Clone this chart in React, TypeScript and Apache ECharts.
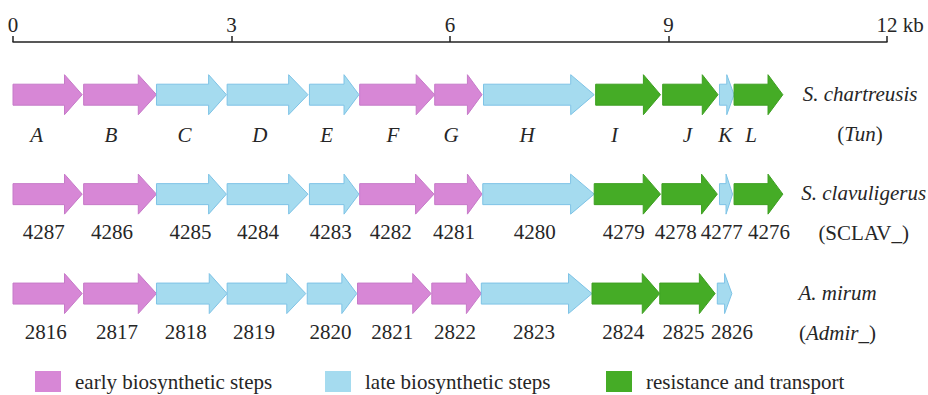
import React, { useEffect, useRef } from "react";
import * as echarts from "echarts";

// ---------- data ----------
const AXIS_TICKS = [0, 3, 6, 9, 12];
const SPECIES = ["S. chartreusis", "S. clavuligerus", "A. mirum"];
const PREFIXES = ["Tun", "SCLAV_", "Admir_"];
const CATEGORY_NAMES = ["early biosynthetic steps", "late biosynthetic steps", "resistance and transport"];

// Row 1: S. chartreusis (Tun)
const TUN_LABELS = ["A", "B", "C", "D", "E", "F", "G", "H", "I", "J", "K", "L"];
const TUN_START = [0.0, 0.97, 1.97, 2.94, 4.07, 4.76, 5.79, 6.46, 8.0, 8.92, 9.7, 9.9];
const TUN_END = [0.95, 1.97, 2.93, 4.05, 4.75, 5.79, 6.44, 7.98, 8.89, 9.68, 9.9, 10.57];
const TUN_TYPE = [0, 0, 1, 1, 1, 0, 0, 1, 2, 2, 1, 2];

// Row 2: S. clavuligerus (SCLAV_)
const SCLAV_LABELS = ["4287", "4286", "4285", "4284", "4283", "4282", "4281", "4280", "4279", "4278", "4277", "4276"];
const SCLAV_START = [0.0, 0.97, 1.97, 2.94, 4.07, 4.76, 5.79, 6.45, 7.98, 8.91, 9.7, 9.9];
const SCLAV_END = [0.95, 1.97, 2.93, 4.05, 4.75, 5.78, 6.44, 7.98, 8.89, 9.67, 9.88, 10.57];
const SCLAV_TYPE = [0, 0, 1, 1, 1, 0, 0, 1, 2, 2, 1, 2];

// Row 3: A. mirum (Admir_)
const ADMIR_LABELS = ["2816", "2817", "2818", "2819", "2820", "2821", "2822", "2823", "2824", "2825", "2826"];
const ADMIR_START = [0.0, 0.97, 1.97, 2.94, 4.04, 4.73, 5.75, 6.43, 7.95, 8.88, 9.67];
const ADMIR_END = [0.95, 1.97, 2.94, 4.02, 4.72, 5.74, 6.43, 7.95, 8.88, 9.64, 9.87];
const ADMIR_TYPE = [0, 0, 1, 1, 1, 0, 0, 1, 2, 2, 1];

// ---------- layout (label nudges in px, not data) ----------
const NUDGE = [
  [-2, 0, 2, 2, 0, 5, 0, 0, -5, 5, 2, 0],
  [5, 1, 8, 0, 4, 3, 3, 8, 5, -6, -1, 18],
  [7, 6, 3, -3, 6, 7, 6, 9, 6, 4, 11],
];
const SPECIES_X = [11.63, 11.68, 11.32];
const FONT = "Liberation Serif, Times New Roman, serif";
const TEXT = "#262626";
const FILLS = ["#D787D6", "#A5DBEF", "#45AC26"];
const STROKES = ["#C67AC8", "#7EC3E6", "#3E9F22"];

type Gene = { s: number; e: number; row: number; label: string; type: number; nudge: number; italic: boolean };

function buildGenes(): Gene[] {
  const rows = [
    [TUN_LABELS, TUN_START, TUN_END, TUN_TYPE],
    [SCLAV_LABELS, SCLAV_START, SCLAV_END, SCLAV_TYPE],
    [ADMIR_LABELS, ADMIR_START, ADMIR_END, ADMIR_TYPE],
  ] as any[];
  const out: Gene[] = [];
  rows.forEach((r, row) => {
    const [labels, st, en, ty] = r;
    labels.forEach((l: string, i: number) =>
      out.push({ s: st[i], e: en[i], row, label: l, type: ty[i], nudge: NUDGE[row][i] || 0, italic: row === 0 })
    );
  });
  return out;
}

function geneSeries(cat: number, genes: Gene[]) {
  const items = genes.filter((g) => g.type === cat);
  return {
    type: "custom",
    name: CATEGORY_NAMES[cat],
    coordinateSystem: "cartesian2d",
    itemStyle: { color: FILLS[cat] },
    encode: { x: [0, 1], y: 2 },
    data: items.map((g) => [g.s, g.e, g.row]),
    renderItem: (params: any, api: any) => {
      const g = items[params.dataIndex];
      const p0 = api.coord([g.s, g.row]);
      const p1 = api.coord([g.e, g.row]);
      const y = p0[1];
      const len = p1[0] - p0[0];
      const head = Math.min(8 + 0.14 * len, 0.5 * len);
      const hb = p1[0] - head;
      const bh = 10.5;
      const hh = 20;
      const points = [
        [p0[0], y - bh],
        [hb, y - bh],
        [hb, y - hh],
        [p1[0], y],
        [hb, y + hh],
        [hb, y + bh],
        [p0[0], y + bh],
      ];
      return {
        type: "group",
        children: [
          { type: "polygon", shape: { points }, style: { fill: FILLS[cat], stroke: STROKES[cat], lineWidth: 1 } },
          {
            type: "text",
            x: (p0[0] + hb) / 2 + g.nudge,
            y: y + (g.italic ? 40 : 38),
            style: {
              text: g.label,
              fontSize: 21,
              fontFamily: FONT,
              fontStyle: g.italic ? "italic" : "normal",
              fill: TEXT,
              align: "center",
              verticalAlign: "middle",
              textAlign: "center",
              textVerticalAlign: "middle",
            },
          },
        ],
      };
    },
  };
}

function speciesSeries() {
  return {
    type: "custom",
    name: "species",
    coordinateSystem: "cartesian2d",
    encode: { x: 0, y: 1 },
    data: SPECIES.map((_, i) => [SPECIES_X[i], i]),
    renderItem: (params: any, api: any) => {
      const i = params.dataIndex;
      const p = api.coord([SPECIES_X[i], i]);
      const italicCode = i !== 1;
      const code = italicCode ? `{p|(}{i|${PREFIXES[i]}}{p|)}` : `{p|(${PREFIXES[i]})}`;
      const base = { fontSize: 21, fontFamily: FONT, fill: TEXT };
      return {
        type: "group",
        children: [
          {
            type: "text",
            x: p[0],
            y: p[1] - 1,
            style: {
              text: SPECIES[i],
              ...base,
              fontStyle: "italic",
              align: "center",
              verticalAlign: "middle",
              textAlign: "center",
              textVerticalAlign: "middle",
            },
          },
          {
            type: "text",
            x: p[0],
            y: p[1] + 39,
            style: {
              text: code,
              ...base,
              rich: {
                p: { fontSize: 21, fontFamily: FONT, fill: TEXT, fontStyle: "normal" },
                i: { fontSize: 21, fontFamily: FONT, fill: TEXT, fontStyle: "italic" },
              },
              align: "center",
              verticalAlign: "middle",
              textAlign: "center",
              textVerticalAlign: "middle",
            },
          },
        ],
      };
    },
  };
}

const LEGEND_LEFT = [35, 325, 606];

export default function App() {
  const ref = useRef<HTMLDivElement>(null);
  useEffect(() => {
    if (!ref.current) return;
    const chart = echarts.init(ref.current, null, { renderer: "svg" });
    const genes = buildGenes();
    const maxTick = AXIS_TICKS[AXIS_TICKS.length - 1];
    chart.setOption({
      animation: false,
      backgroundColor: "#ffffff",
      grid: { left: 13, right: 41, top: 42, bottom: 2, outerBoundsMode: "none", containLabel: false },
      xAxis: {
        type: "value",
        position: "top",
        min: AXIS_TICKS[0],
        max: maxTick,
        interval: AXIS_TICKS[1] - AXIS_TICKS[0],
        axisLine: { show: true, onZero: false, lineStyle: { color: "#222", width: 1.5 } },
        axisTick: { show: true, length: 6, lineStyle: { color: "#222", width: 1.5 } },
        splitLine: { show: false },
        axisLabel: {
          margin: 7,
          fontSize: 21,
          fontFamily: FONT,
          color: TEXT,
          formatter: (v: number) => (v === maxTick ? `{k|${v} kb}` : String(v)),
          rich: { k: { fontSize: 21, fontFamily: FONT, color: TEXT, padding: [0, 0, 0, 26] } },
        },
      },
      yAxis: { type: "value", inverse: true, min: -0.53, max: 3, show: false },
      legend: CATEGORY_NAMES.map((n, i) => ({
        data: [n],
        left: LEGEND_LEFT[i],
        top: 371,
        padding: 0,
        icon: "rect",
        itemWidth: 26,
        itemHeight: 21,
        selectedMode: false,
        textStyle: { fontSize: 21, fontFamily: FONT, color: TEXT, padding: [0, 0, 0, 9] },
      })),
      series: [geneSeries(0, genes), geneSeries(1, genes), geneSeries(2, genes), speciesSeries()],
    });
    return () => chart.dispose();
  }, []);
  return <div ref={ref} style={{ position: "absolute", left: 0, top: 0, width: 928, height: 395 }} />;
}
